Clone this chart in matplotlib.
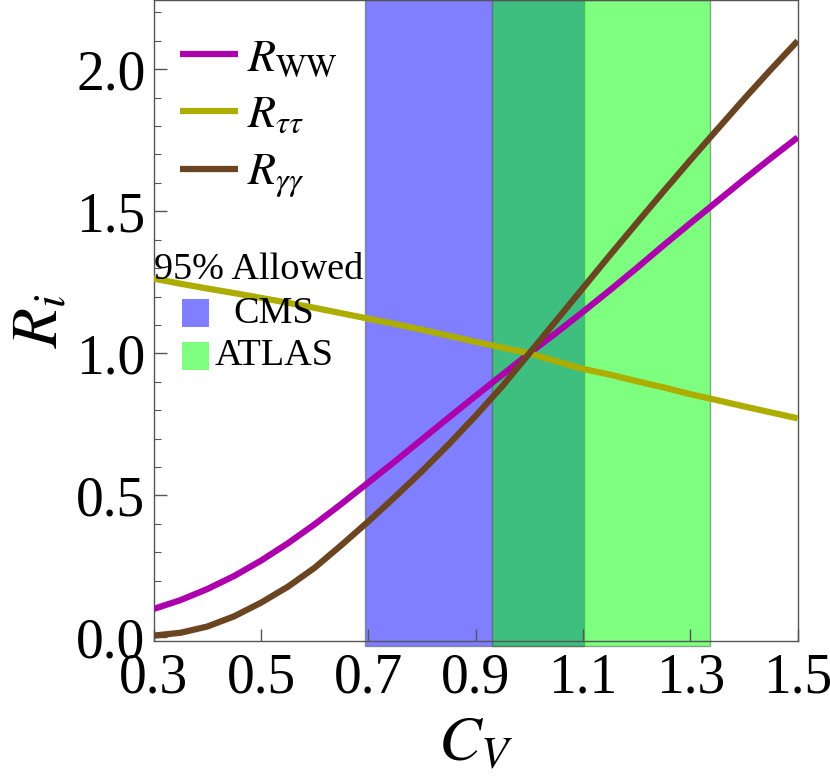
import numpy as np
import matplotlib
matplotlib.use("Agg")
import matplotlib.pyplot as plt
from matplotlib.patches import Rectangle
from matplotlib.ticker import FixedLocator, MultipleLocator, FormatStrFormatter

plt.rcParams['font.family'] = ['Liberation Serif', 'DejaVu Serif']
plt.rcParams['mathtext.fontset'] = 'stix'

# ---- data ----
cv = [0.30, 0.35, 0.40, 0.45, 0.50, 0.55, 0.60, 0.65, 0.70, 0.75, 0.80, 0.85,
      0.90, 0.95, 1.00, 1.05, 1.10, 1.15, 1.20, 1.25, 1.30, 1.35, 1.40, 1.45, 1.50]
r_ww = [0.100, 0.131, 0.170, 0.216, 0.270, 0.331, 0.398, 0.470, 0.545, 0.620, 0.697, 0.774,
        0.850, 0.925, 1.000, 1.072, 1.146, 1.222, 1.300, 1.380, 1.458, 1.535, 1.612, 1.687, 1.760]
r_tautau = [1.263, 1.245, 1.228, 1.212, 1.195, 1.178, 1.160, 1.141, 1.122, 1.103, 1.083, 1.062,
            1.040, 1.020, 1.000, 0.972, 0.945, 0.925, 0.902, 0.880, 0.856, 0.835, 0.813, 0.792, 0.771]
r_gamgam = [0.006, 0.016, 0.038, 0.074, 0.122, 0.178, 0.245, 0.325, 0.408, 0.495, 0.585, 0.680,
            0.780, 0.885, 1.000, 1.115, 1.230, 1.345, 1.458, 1.570, 1.680, 1.788, 1.895, 1.999, 2.100]

cms_range = [0.693, 1.101]
atlas_range = [0.931, 1.337]

series_labels = [r'$R_{\mathrm{WW}}$', r'$R_{\tau\tau}$', r'$R_{\gamma\gamma}$']
series_colors = ['#AD00AD', '#ADAD00', '#6B4422']
band_labels = ['CMS', 'ATLAS']
band_colors = ['#0000FF', '#00FF00']
x_ticks = [0.3, 0.5, 0.7, 0.9, 1.1, 1.3, 1.5]

fig = plt.figure(figsize=(8.30, 7.84), dpi=100)
ax = fig.add_axes([0.1852, 0.1824, 0.7758, 0.8176])

# bands
for rng, col in zip([cms_range, atlas_range], band_colors):
    ax.axvspan(rng[0], rng[1], ymin=-0.008, ymax=1.0, facecolor=col, alpha=0.5,
               edgecolor=(0.3, 0.3, 0.3, 0.6), linewidth=1.0, clip_on=False, zorder=1)

lines = []
for y, col, lab in zip([r_ww, r_tautau, r_gamgam], series_colors, series_labels):
    ln, = ax.plot(cv, y, color=col, lw=4.5, label=lab, zorder=3, solid_capstyle='butt',
                  solid_joinstyle='round')
    lines.append(ln)

ax.set_xlim(0.3, 1.5)
ax.set_ylim(-0.013, 2.244)

ax.xaxis.set_major_locator(FixedLocator(x_ticks))
ax.xaxis.set_major_formatter(FormatStrFormatter('%.1f'))
ax.yaxis.set_major_locator(MultipleLocator(0.5))
ax.yaxis.set_minor_locator(MultipleLocator(0.1))
ax.yaxis.set_major_formatter(FormatStrFormatter('%.1f'))

ax.tick_params(axis='both', which='major', direction='in', length=9, width=1.0,
               color='#555555', labelsize=40, top=False, right=False)
ax.tick_params(axis='x', pad=8)
ax.tick_params(axis='y', pad=6)
ax.tick_params(axis='y', which='minor', direction='in', length=5, width=0.8,
               color='#555555', right=False)
for sp in ax.spines.values():
    sp.set_color('#555555')
    sp.set_linewidth(1.0)

ax.set_xlabel(r'$C_V$', fontsize=46, labelpad=9)
ax.set_ylabel(r'$R_i$', fontsize=47, labelpad=3)

leg = ax.legend(handles=lines, loc='upper left', bbox_to_anchor=(0.041, 0.942),
                frameon=False, fontsize=33, handlelength=1.27, handletextpad=0.18,
                borderpad=0.0, borderaxespad=0.0, labelspacing=0.33)

# band legend
ax.text(0.0, 0.579, '95% Allowed', transform=ax.transAxes, fontsize=27.5,
        ha='left', va='center', zorder=5)
sq_y = [0.490, 0.423]
txt_y = [0.510, 0.445]
for lab, col, yy, ty in zip(band_labels, band_colors, sq_y, txt_y):
    ax.add_patch(Rectangle((0.044, yy), 0.042, 0.044, transform=ax.transAxes,
                           facecolor=col, alpha=0.5, edgecolor='none', zorder=5))
    ax.text(0.187, ty, lab, transform=ax.transAxes, fontsize=27.5,
            ha='center', va='center', zorder=5)

fig.savefig('out.png', dpi=100)
